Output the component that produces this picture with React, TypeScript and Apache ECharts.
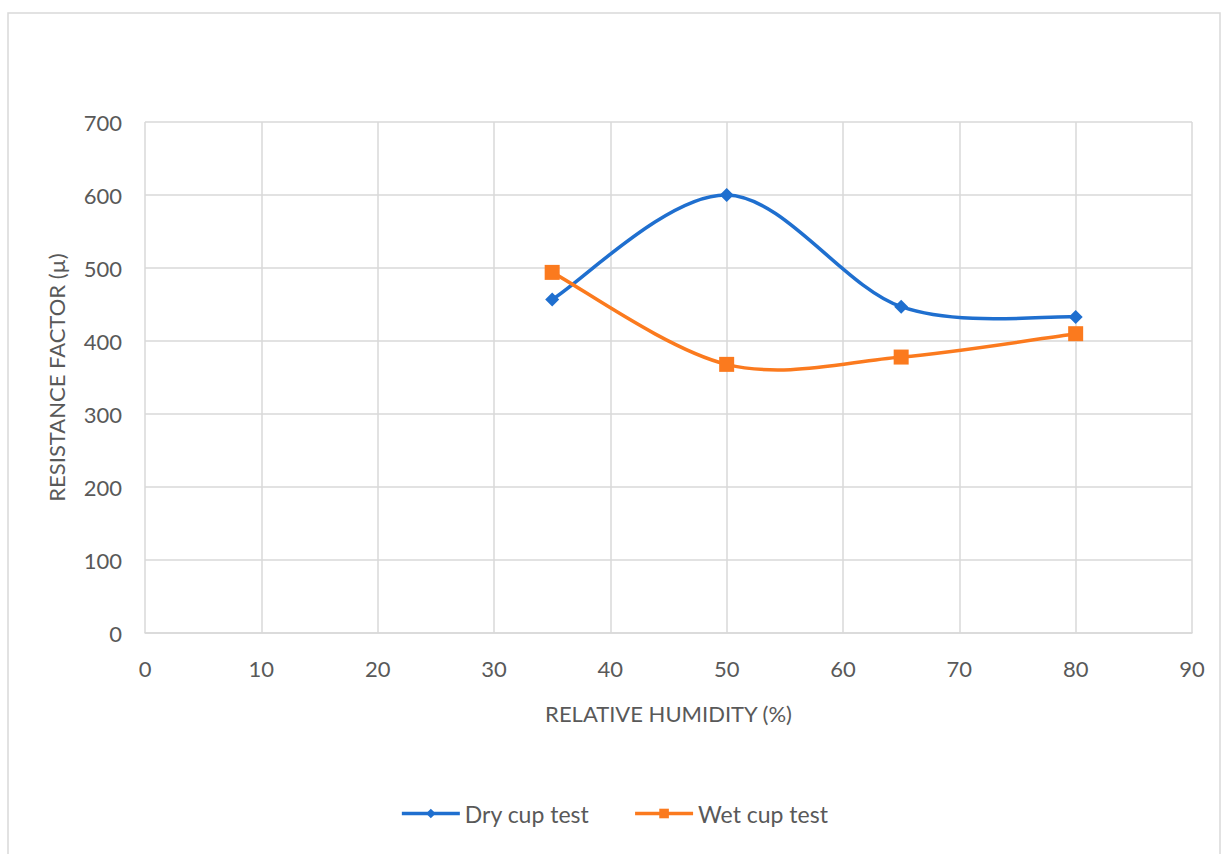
import React, { useEffect, useRef } from "react";
import * as echarts from "echarts";

const humidity = [35, 50, 65, 80];
const dryCup = [457, 600, 447, 433];
const wetCup = [494, 368, 378, 410];
const xTicks = { min: 0, max: 90, interval: 10 };
const yTicks = { min: 0, max: 700, interval: 100 };
const seriesNames = ["Dry cup test", "Wet cup test"];
const colors = ["#1f6fcf", "#fb7a1e"];

const FONT = "Lato, 'Open Sans', sans-serif";
const TXT = "#595959";

// Excel-like smoothed segment (Catmull-Rom, tension 1/6) drawn through the axis scale
function smoothCurve(ys: number[], color: string) {
  return (params: any, api: any) => {
    const i = params.dataIndex;
    if (i >= humidity.length - 1) return null;
    const p = humidity.map((x, k) => api.coord([x, ys[k]]));
    const p0 = p[Math.max(i - 1, 0)];
    const p1 = p[i];
    const p2 = p[i + 1];
    const p3 = p[Math.min(i + 2, p.length - 1)];
    return {
      type: "bezierCurve",
      shape: {
        x1: p1[0],
        y1: p1[1],
        x2: p2[0],
        y2: p2[1],
        cpx1: p1[0] + (p2[0] - p0[0]) / 6,
        cpy1: p1[1] + (p2[1] - p0[1]) / 6,
        cpx2: p2[0] - (p3[0] - p1[0]) / 6,
        cpy2: p2[1] - (p3[1] - p1[1]) / 6,
      },
      style: { stroke: color, lineWidth: 3.5, fill: "none" },
      silent: true,
    };
  };
}

export default function App() {
  const ref = useRef<HTMLDivElement>(null);
  useEffect(() => {
    const chart = echarts.init(ref.current!, null, { renderer: "svg" });
    const dryData = humidity.map((x, i) => [x, dryCup[i]]);
    const wetData = humidity.map((x, i) => [x, wetCup[i]]);
    chart.setOption({
      animation: false,
      backgroundColor: "#ffffff",
      textStyle: { fontFamily: FONT },
      graphic: [
        {
          type: "rect",
          shape: { x: 8, y: 13, width: 1212, height: 860 },
          style: { fill: "none", stroke: "#d9d9d9", lineWidth: 1.5 },
          silent: true,
        },
      ],
      grid: { left: 145, top: 122, right: 36, bottom: 221, containLabel: false },
      xAxis: {
        type: "value",
        min: xTicks.min,
        max: xTicks.max,
        interval: xTicks.interval,
        name: "RELATIVE HUMIDITY (%)",
        nameLocation: "middle",
        nameGap: 69,
        nameTextStyle: { color: TXT, fontSize: 22, fontFamily: FONT },
        axisLine: { show: true, lineStyle: { color: "#d9d9d9", width: 1.5 } },
        axisTick: { show: false },
        axisLabel: { color: TXT, fontSize: 22, margin: 24, fontFamily: FONT },
        splitLine: { show: true, lineStyle: { color: "#d9d9d9", width: 1.5 } },
      },
      yAxis: {
        type: "value",
        min: yTicks.min,
        max: yTicks.max,
        interval: yTicks.interval,
        name: "RESISTANCE FACTOR (\u00b5)",
        nameLocation: "middle",
        nameGap: 78,
        nameRotate: 90,
        nameTextStyle: { color: TXT, fontSize: 22, fontFamily: FONT },
        axisLine: { show: false },
        axisTick: { show: false },
        axisLabel: { color: TXT, fontSize: 22, margin: 23, fontFamily: FONT },
        splitLine: { show: true, lineStyle: { color: "#d9d9d9", width: 1.5 } },
      },
      legend: {
        bottom: 24,
        left: "center",
        itemWidth: 58,
        itemHeight: 12,
        itemGap: 44,
        textStyle: { color: TXT, fontSize: 23, fontFamily: FONT },
        data: seriesNames.map((n, i) => ({
          name: n,
          lineStyle: { color: colors[i], width: 3.5, opacity: 1 },
        })),
      },
      series: [
        {
          name: "dry-curve",
          type: "custom",
          data: dryData,
          renderItem: smoothCurve(dryCup, colors[0]),
          z: 1,
          silent: true,
        },
        {
          name: "wet-curve",
          type: "custom",
          data: wetData,
          renderItem: smoothCurve(wetCup, colors[1]),
          z: 1,
          silent: true,
        },
        {
          name: seriesNames[0],
          type: "line",
          data: dryData,
          symbol: "diamond",
          symbolSize: 14,
          lineStyle: { color: colors[0], width: 3.5, opacity: 0 },
          itemStyle: { color: colors[0] },
          z: 3,
        },
        {
          name: seriesNames[1],
          type: "line",
          data: wetData,
          symbol: "rect",
          symbolSize: 15,
          lineStyle: { color: colors[1], width: 3.5, opacity: 0 },
          itemStyle: { color: colors[1] },
          z: 3,
        },
      ],
    });
    return () => chart.dispose();
  }, []);
  return (
    <div
      ref={ref}
      style={{ position: "absolute", left: 0, top: 0, width: 1228, height: 854 }}
    />
  );
}
